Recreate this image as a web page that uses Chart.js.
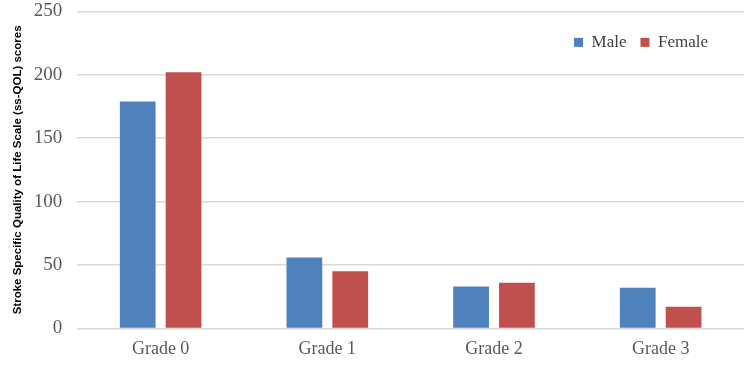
<!DOCTYPE html>
<html>
<head>
<meta charset="utf-8">
<script src="https://cdn.jsdelivr.net/npm/chart.js@4.4.1/dist/chart.umd.min.js"></script>
<style>
  html, body { margin: 0; padding: 0; background: #fff; }
  #wrap { width: 750px; height: 366px; position: relative; }
</style>
</head>
<body>
<div id="wrap"><canvas id="chart"></canvas></div>
<script>
// ── DATA ──
const grades = ["Grade 0", "Grade 1", "Grade 2", "Grade 3"];
const male   = [179, 56, 33, 32];
const female = [202, 45, 36, 17];
const yTicks = [0, 50, 100, 150, 200, 250];

// legend sits inside the plot area: it takes no layout height, then gets nudged
const legendInside = {
  id: "legendInside",
  beforeLayout(chart) {
    const lg = chart.legend;
    if (!lg || lg._wrapped) return;
    const fit = lg.fit.bind(lg);
    lg.fit = function () { fit(); this._realHeight = this.height; this.height = 0; };
    lg._wrapped = true;
  },
  afterLayout(chart) {
    const lg = chart.legend;
    if (!lg) return;
    lg.top += 8.5;
    lg.height = lg._realHeight;
    lg.bottom = lg.top + lg.height;
    lg.right -= 22;
  }
};

new Chart(document.getElementById("chart"), {
  type: "bar",
  data: {
    labels: grades,
    datasets: [
      { label: "Male",   data: male,   backgroundColor: "#4F81BD" },
      { label: "Female", data: female, backgroundColor: "#C0504D" }
    ]
  },
  options: {
    responsive: true,
    maintainAspectRatio: false,
    animation: false,
    layout: { padding: { left: 4, right: 6, top: 1, bottom: -5 } },
    datasets: { bar: { categoryPercentage: 0.55, barPercentage: 0.78 } },
    plugins: {
      tooltip: { enabled: false },
      legend: {
        position: "top",
        align: "end",
        labels: {
          boxWidth: 9, boxHeight: 9, padding: 14, color: "#404040",
          font: { family: "'Liberation Serif'", size: 17 }
        }
      }
    },
    scales: {
      x: {
        grid: { display: false, drawTicks: false },
        border: { display: false },
        ticks: { color: "#595959", padding: 10.5, font: { family: "'Liberation Serif'", size: 18 } }
      },
      y: {
        min: 0, max: 250,
        afterBuildTicks: (axis) => { axis.ticks = yTicks.map(v => ({ value: v })); },
        grid: { color: "#d9d9d9", lineWidth: 1.5, drawTicks: true, tickLength: 15, tickColor: "transparent" },
        border: { display: false },
        ticks: { color: "#595959", padding: 0, font: { family: "'Liberation Serif'", size: 19 } },
        title: {
          display: true,
          text: "Stroke Specific Quality of Life Scale (ss-QOL) scores",
          color: "#000",
          padding: { top: 7, bottom: 9 },
          font: { family: "'Liberation Sans Narrow', 'Liberation Sans'", size: 11.5, weight: "bold" }
        }
      }
    }
  },
  plugins: [legendInside]
});
</script>
</body>
</html>
